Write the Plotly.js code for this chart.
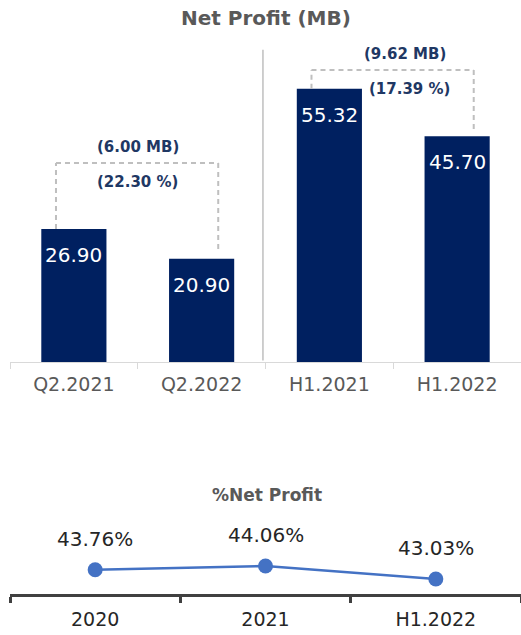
<!DOCTYPE html>
<html>
<head>
<meta charset="utf-8">
<script src="https://cdn.plot.ly/plotly-3.0.1.min.js"></script>
<style>
  html, body { margin: 0; padding: 0; background: #fff; }
  #plot { width: 521px; height: 635px; }
</style>
</head>
<body>
<div id="plot"></div>
<script>
// net profit per period (MB)
var periods = ['Q2.2021', 'Q2.2022', 'H1.2021', 'H1.2022'];
var netProfit = [26.90, 20.90, 55.32, 45.70];

// % net profit
var pctYears = ['2020', '2021', 'H1.2022'];
var pctNetProfit = [43.76, 44.06, 43.03];

var W = 521, H = 635;
var FONT = 'DejaVu Sans';
var NAVY = '#002060';

// pixel helpers for layout
function py(px) { return 1 - px / H; }

var barTrace = {
  type: 'bar',
  x: periods,
  y: netProfit,
  xaxis: 'x', yaxis: 'y',
  width: 0.51,
  marker: { color: NAVY },
  hoverinfo: 'none'
};

var lineTrace = {
  type: 'scatter',
  mode: 'lines+markers',
  x: pctYears,
  y: pctNetProfit,
  xaxis: 'x2', yaxis: 'y2',
  line: { color: '#4472c4', width: 2.5 },
  marker: { color: '#4472c4', size: 15 },
  hoverinfo: 'none'
};

var shapes = [];
var annotations = [];

// separator between quarter and half-year groups
shapes.push({
  type: 'line', xref: 'x', yref: 'y',
  x0: 1.48, x1: 1.48, y0: 0.3, y1: 63.2,
  line: { color: '#bfbfbf', width: 1.5 }
});

// value labels inside the bars
netProfit.forEach(function(v, i) {
  annotations.push({
    xref: 'x', yref: 'y', x: i, y: v,
    text: v.toFixed(2), showarrow: false,
    yanchor: 'top', yshift: -12,
    font: { family: FONT, size: 20, color: '#ffffff' }
  });
});

// dashed brackets with decrease amount / percent
var pairs = [[0, 1], [2, 3]];
var bracketTop = [40.3, 59.1];
var textShift = [0, 0.09];
pairs.forEach(function(p, k) {
  var a = netProfit[p[0]], b = netProfit[p[1]];
  var xl = p[0] - 0.14, xr = p[1] + 0.13, top = bracketTop[k];
  var dash = { color: '#bfbfbf', width: 2, dash: '5px,4px' };
  shapes.push({ type: 'line', xref: 'x', yref: 'y', x0: xl, x1: xl, y0: a, y1: top, line: dash });
  shapes.push({ type: 'line', xref: 'x', yref: 'y', x0: xl, x1: xr, y0: top, y1: top, line: dash });
  shapes.push({ type: 'line', xref: 'x', yref: 'y', x0: xr, x1: xr, y0: top, y1: b + 1.3, line: dash });
  var diff = a - b;
  annotations.push({
    xref: 'x', yref: 'y', x: (p[0] + p[1]) / 2 + textShift[k], y: top,
    text: '(' + diff.toFixed(2) + ' MB)', showarrow: false,
    yanchor: 'bottom', yshift: 5,
    font: { family: FONT, size: 15, color: '#1f3864', weight: 'bold' }
  });
  annotations.push({
    xref: 'x', yref: 'y', x: (p[0] + p[1]) / 2 + textShift[k] * 1.4, y: top,
    text: '(' + (diff / a * 100).toFixed(2) + ' %)', showarrow: false,
    yanchor: 'top', yshift: -8,
    font: { family: FONT, size: 15, color: '#1f3864', weight: 'bold' }
  });
});

// percent labels above the line points
pctNetProfit.forEach(function(v, i) {
  annotations.push({
    xref: 'x2', yref: 'y2', x: i, y: v,
    text: v.toFixed(2) + '%', showarrow: false,
    yanchor: 'middle', yshift: 31,
    font: { family: FONT, size: 20, color: '#262626' }
  });
});

// chart titles
annotations.push({
  xref: 'paper', yref: 'paper', x: 265.5 / W, y: py(18),
  text: '<b>Net Profit (MB)</b>', showarrow: false, yanchor: 'middle',
  font: { family: FONT, size: 20, color: '#595959' }
});
annotations.push({
  xref: 'paper', yref: 'paper', x: 267 / W, y: py(495),
  text: '<b>%Net Profit</b>', showarrow: false, yanchor: 'middle',
  font: { family: FONT, size: 17, color: '#595959' }
});

var layout = {
  width: W, height: H,
  margin: { l: 0, r: 0, t: 0, b: 0 },
  paper_bgcolor: '#ffffff',
  plot_bgcolor: 'rgba(0,0,0,0)',
  showlegend: false,
  font: { family: FONT },
  xaxis: {
    domain: [10 / W, 1], anchor: 'y',
    type: 'category', range: [-0.5, 3.5],
    showline: true, linecolor: '#d9d9d9', linewidth: 1,
    ticks: 'outside', tickson: 'boundaries', ticklen: 6, tickcolor: '#d9d9d9',
    ticklabelstandoff: 5,
    showgrid: false, zeroline: false,
    tickfont: { family: FONT, size: 19, color: '#595959' }
  },
  yaxis: {
    domain: [py(362), py(40)], anchor: 'x',
    range: [0, 322 / 4.94], visible: false, fixedrange: true
  },
  xaxis2: {
    domain: [10 / W, 1], anchor: 'y2',
    type: 'category', range: [-0.5, 2.5],
    showline: true, linecolor: '#404040', linewidth: 3,
    ticks: 'outside', tickson: 'boundaries', ticklen: 6, tickwidth: 3, tickcolor: '#404040',
    ticklabelstandoff: 6,
    showgrid: false, zeroline: false,
    tickfont: { family: FONT, size: 19, color: '#262626' }
  },
  yaxis2: {
    domain: [py(594), py(520)], anchor: 'x2',
    range: [41.84, 41.84 + 74 / 12.6], visible: false, fixedrange: true
  },
  shapes: shapes,
  annotations: annotations
};

Plotly.newPlot('plot', [barTrace, lineTrace], layout, { displayModeBar: false, staticPlot: true });
</script>
</body>
</html>
